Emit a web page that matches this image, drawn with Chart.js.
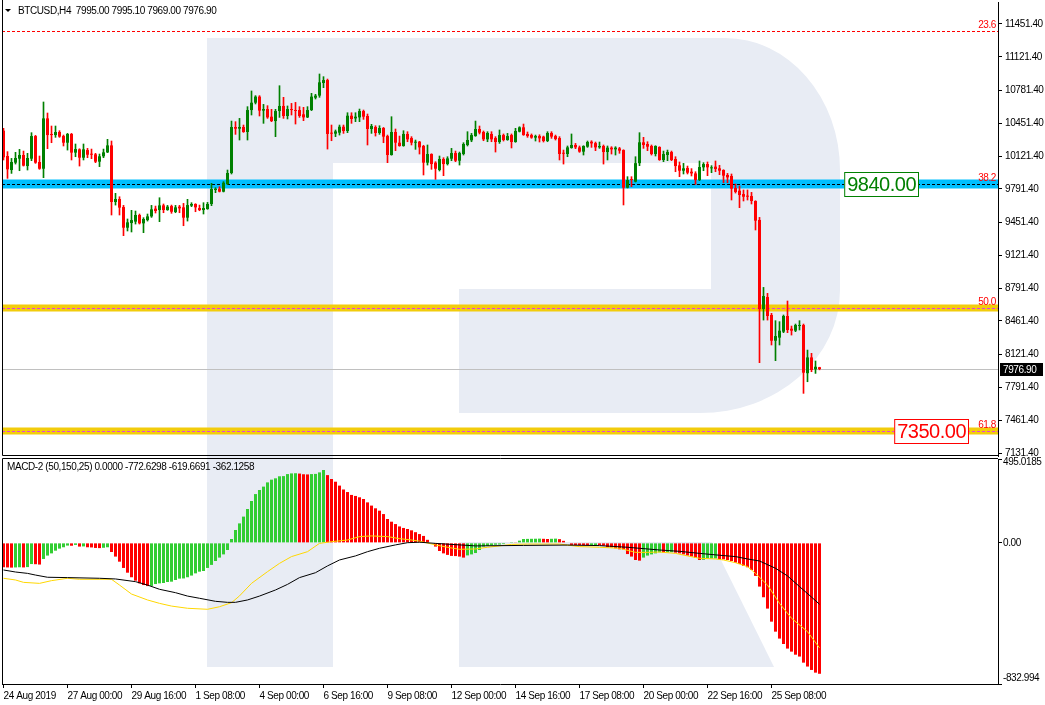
<!DOCTYPE html>
<html>
<head>
<meta charset="utf-8">
<script src="https://cdn.jsdelivr.net/npm/chart.js@4.4.0/dist/chart.umd.min.js"></script>
<style>
  html, body { margin: 0; padding: 0; background: #fff; }
  #wrap { position: relative; width: 1045px; height: 705px; overflow: hidden; }
  #logo { position: absolute; left: 0; top: 0; }
  #priceChart { position: absolute; left: 0; top: 0; }
  #macdChart { position: absolute; left: 0; top: 457px; }
</style>
</head>
<body>
<div id="wrap">
  <!-- background watermark -->
  <svg id="logo" width="1045" height="705">
    <g fill="#e8ecf4">
      <rect x="207" y="38" width="126" height="629"/>
      <path d="M333,38 H725 A115,132 0 0 1 840,170 V290 A140,123 0 0 1 700,413 H459 V289 H711 V163 H333 Z"/>
      <path d="M459,542 H712 L774,667 H459 Z"/>
    </g>
  </svg>
  <canvas id="priceChart" width="1045" height="457"></canvas>
  <canvas id="macdChart" width="1045" height="248"></canvas>
</div>
<script>
// BTCUSD H4, one bar every 4 hours from 24 Aug 2019 08:00
const opens = [10377,10122,9981,10055,10095,10132,10021,10095,10323,10062,9994,10501,10344,10333,10364,10323,10256,10344,10156,10189,
  10105,10182,10142,10139,10065,10119,10159,10229,9659,9689,9608,9400,9447,9461,9528,9444,9477,9514,9592,9578,
  9625,9578,9618,9558,9612,9605,9501,9622,9639,9598,9578,9588,9639,9780,9793,9763,9840,9951,10414,10397,
  10414,10364,10585,10659,10720,10579,10595,10518,10474,10575,10626,10525,10595,10585,10585,10542,10511,10585,10709,10730,
  10857,10887,10354,10347,10357,10417,10374,10528,10501,10511,10575,10525,10394,10414,10354,10404,10323,10132,10364,10256,
  10223,10344,10303,10256,10266,10223,10055,10142,10055,9981,10092,10041,10095,10152,10075,10142,10233,10280,10323,10394,
  10364,10290,10344,10303,10263,10333,10283,10333,10263,10367,10411,10344,10333,10307,10323,10317,10273,10354,10323,10303,
  10152,10142,10203,10233,10209,10166,10216,10266,10252,10209,10223,10162,10206,10189,10199,10182,9803,9890,9864,10050,
  10260,10243,10223,10142,10213,10082,10132,10162,10092,10028,9974,10001,9964,9947,9880,10008,10041,9998,10015,9998,
  9981,9931,9921,9800,9773,9739,9723,9719,9669,9478,8581,8702,8521,8262,8293,8353,8511,8383,8363,8410,
  8420,7935,8094,7974,7995.00]
const highs = [10401,10166,10098,10159,10189,10172,10149,10357,10330,10122,10666,10555,10424,10424,10377,10333,10350,10350,10243,10195,
  10243,10199,10192,10149,10142,10192,10290,10273,9746,9712,9625,9488,9575,9568,9538,9501,9538,9625,9618,9702,
  9639,9625,9628,9625,9625,9645,9686,9652,9642,9628,9652,9655,9847,9803,9813,9864,9981,10474,10468,10501,
  10434,10619,10777,10730,10730,10642,10629,10592,10592,10830,10713,10626,10652,10662,10619,10612,10619,10753,10743,10948,
  10921,10897,10434,10384,10434,10434,10558,10558,10558,10595,10585,10545,10441,10427,10427,10410,10333,10518,10394,10323,
  10377,10367,10317,10283,10270,10230,10233,10145,10065,10122,10105,10115,10199,10172,10162,10256,10367,10350,10474,10424,
  10374,10367,10367,10317,10384,10344,10350,10344,10401,10417,10444,10364,10344,10333,10336,10323,10367,10367,10333,10317,
  10182,10223,10344,10249,10223,10226,10273,10276,10263,10263,10233,10223,10216,10216,10209,10185,9914,9914,10115,10357,
  10310,10266,10233,10226,10216,10172,10182,10172,10115,10062,10048,10021,9995,9964,10072,10055,10062,10025,10072,10028,
  9984,9947,9941,9840,9820,9780,9780,9756,9672,9504,8799,8739,8538,8464,8454,8521,8662,8410,8430,8464,
  8430,8168,8135,8058,7995.10]
const lows = [10082,9897,9947,10041,9974,10021,9981,10075,10048,9988,9904,10196,10256,10310,10310,10223,10182,10082,10115,10021,
  10082,10105,10095,10055,10015,10105,10156,9528,9628,9528,9320,9367,9357,9437,9437,9350,9467,9504,9548,9461,
  9551,9575,9545,9551,9551,9420,9467,9612,9561,9571,9538,9585,9622,9753,9760,9760,9833,9941,10340,10283,
  10360,10283,10535,10646,10525,10451,10501,10468,10317,10511,10501,10495,10535,10444,10511,10478,10508,10579,10696,10713,
  10810,10192,10276,10317,10333,10350,10357,10451,10468,10468,10491,10233,10350,10323,10340,10256,10055,10130,10176,10220,
  10220,10266,10233,10189,10142,9931,10031,9988,9887,9971,9924,10031,10075,10065,10031,10132,10223,10266,10320,10344,
  10276,10266,10266,10162,10249,10273,10280,10203,10260,10364,10330,10310,10300,10273,10263,10263,10266,10300,10283,10082,
  10041,10115,10200,10196,10159,10132,10209,10209,10176,10199,10041,10082,10142,10132,10149,9629,9800,9813,9860,10025,
  10199,10176,10132,10122,10078,10065,10075,10075,9964,9914,9941,9941,9921,9837,9874,9974,9924,9954,9964,9934,
  9853,9853,9679,9749,9602,9669,9679,9639,9377,8041,8470,8470,8219,8061,8219,8343,8343,8319,8353,8370,
  7732,7849,7950,7933,7969.00]
const closes = [10109,9988,10062,10102,10132,10025,10102,10323,10055,9994,10501,10333,10333,10364,10317,10256,10344,10156,10192,10105,
  10189,10135,10135,10065,10119,10159,10229,9659,9689,9602,9400,9454,9477,9528,9444,9488,9514,9585,9568,9625,
  9578,9612,9561,9605,9595,9501,9628,9639,9605,9578,9598,9639,9790,9793,9763,9853,9951,10414,10397,10414,
  10364,10585,10659,10720,10579,10595,10511,10474,10575,10626,10525,10595,10585,10575,10525,10511,10585,10720,10730,10864,
  10887,10344,10347,10370,10417,10374,10528,10495,10518,10575,10518,10394,10424,10354,10404,10317,10132,10364,10256,10223,
  10344,10290,10256,10266,10209,10055,10142,10041,9994,10092,10041,10098,10152,10075,10152,10243,10283,10333,10394,10357,
  10290,10354,10290,10263,10333,10283,10323,10263,10374,10411,10333,10323,10307,10323,10300,10273,10354,10317,10293,10142,
  10145,10209,10233,10209,10166,10223,10263,10249,10209,10223,10162,10206,10189,10206,10176,9803,9880,9880,10050,10260,
  10233,10216,10142,10223,10082,10142,10162,10082,10021,9974,9998,9954,9947,9880,10011,10041,10008,10008,9991,9974,
  9924,9907,9793,9760,9729,9712,9712,9669,9471,8581,8712,8511,8262,8309,8363,8511,8370,8363,8420,8420,
  7940,8094,7967,8000,7976.90]

// MACD-2 (50,150,25) histogram, one value per bar
const histVals = [-144,-145,-146,-145,-144,-145,-143,-125,-126,-128,-95,-75,-62,-46,-34,-26,-16,-17,-12,-22,
  -21,-26,-27,-30,-31,-29,-26,-54,-81,-111,-148,-176,-203,-223,-239,-249,-255,-254,-243,-239,
  -237,-231,-229,-219,-211,-210,-203,-193,-180,-170,-166,-148,-130,-107,-87,-68,-42,23,76,115,
  155,200,247,288,312,332,357,373,381,393,394,406,410,411,409,405,404,406,407,416,
  430,400,377,361,338,315,300,283,277,269,259,239,220,204,190,170,141,125,111,97,
  88,82,74,63,52,41,18,3,-22,-48,-62,-71,-77,-78,-81,-87,-74,-68,-60,-42,
  -22,-18,-15,-11,-10,-7,-3,5,4,13,23,23.5,24,24.5,25,24,23,24,25,22,
  12,-3,-12,-12.5,-13,-13.5,-14,-13,-12.5,-13,-16,-26,-27,-32,-38,-39,-66,-81,-101,-105,
  -87,-75,-68,-62,-56,-57,-56,-55,-58,-62,-68,-75,-81,-89,-101,-100,-93,-92.5,-92,-97,
  -97.5,-101,-107,-117,-125,-136,-144,-160,-195,-258,-321,-388,-465,-524,-565,-597,-624,-642,-660,-671,
  -707,-730,-750,-766,-772.6298]

// MACD main line (gold) and signal line (black), read at these bars
const macdIdx = [0,3,5,9,12,16,19,27,29,32,36,39,42,46,51,54,57,59,62,66,69,72,76,79,82,86,89,92,96,99,
  102,104,108,111,114,118,121,124,127,131,139,144,149,154,158,161,164,168,171,174,178,180,183,186,188,191,194,197,201,204]
const macdVals = [-209,-219,-233,-239,-223,-209,-215,-215,-249,-302,-337,-357,-373,-386,-392,-377,-353,-313,-239,-170,-121,-81,-52,-3,7,17,37,41,37,25,
  17,10,-12,-26,-38,-36,-26,-18,-9,-7,-7,-22,-26,-32,-56,-56,-54,-62,-77,-91,-95,-101,-117,-140,-180,-249,-357,-445,-524,-619.6691]
const signalIdx = [0,3,6,8,11,16,24,28,33,36,39,43,46,49,53,56,58,61,64,68,71,74,78,81,84,88,91,94,98,101,
  104,108,114,118,130,141,149,156,159,164,169,174,179,183,186,189,193,196,199,202,204]
const signalVals = [-160,-172,-180,-190,-203,-205,-209,-213,-229,-249,-274,-294,-314,-327,-345,-351,-351,-337,-314,-278,-245,-205,-176,-136,-101,-77,-52,-32,-12,1,
  4,-3,-12,-18,-15,-13,-16,-26,-32,-42,-50,-62,-73,-81,-95,-107,-150,-195,-258,-320,-362.1258]
const macdHeaderVals = [0, -772.6298, -619.6691, -362.1258]

// axis ticks
const priceTicks = [11451.4, 11121.4, 10781.4, 10451.4, 10121.4, 9791.4, 9451.4, 9121.4, 8791.4, 8461.4, 8121.4, 7791.4, 7461.4, 7131.4]
const macdTicks = [495.0185, 0, -832.994]
const macdTickLabels = ['495.0185', '0.00', '-832.994']
const timeTickIdx = [0, 16, 32, 48, 64, 80, 96, 112, 128, 144, 160, 176, 192]
const timeTickLabels = ['24 Aug 2019', '27 Aug 00:00', '29 Aug 16:00', '1 Sep 08:00', '4 Sep 00:00', '6 Sep 16:00',
  '9 Sep 08:00', '12 Sep 00:00', '14 Sep 16:00', '17 Sep 08:00', '20 Sep 00:00', '22 Sep 16:00', '25 Sep 08:00']

// fibo levels and the two price notes
const fibNames = ['23.6', '38.2', '50.0', '61.8']
const fibPrices = [11380, 9840, 8595, 7350]
const notePrices = [9840, 7350]
const noteTexts = ['9840.00', '7350.00']

// styles
const fibBandColor = [null, '#00bfff', '#f2cc0c', '#f2cc0c']
const fibBandWidth = [0, 9, 7, 7]
const fibLineColor = ['#ff0000', '#000000', '#e040e0', '#e040e0']
const noteColor = ['#008000', '#ff0000']
const noteRightBar = [228.75, 241.25]
const UP = '#008000', DOWN = '#ff0000'
const HIST_UP = '#32cd32', HIST_DOWN = '#ff0000'
const FONT = '"Liberation Sans", Arial, sans-serif'
const xMin = -0.375, xMax = 248.625

const bodies = opens.map((o, i) => ({ x: i, y: [o, closes[i]] }))
const wicks = lows.map((l, i) => ({ x: i, y: [l, highs[i]] }))
const candleColors = opens.map((o, i) => closes[i] < o ? DOWN : UP)
const hist = histVals.map((v, i) => ({ x: i, y: v }))
const histColors = histVals.map((v, i) => (i > 0 && v > histVals[i - 1]) ? HIST_UP : HIST_DOWN)
const macdPts = macdIdx.map((x, k) => ({ x: x, y: macdVals[k] }))
const signalPts = signalIdx.map((x, k) => ({ x: x, y: signalVals[k] }))
const last = opens.length - 1

// no label overhang padding, the plot has to fill its panel
const noPad = s => { s.paddingTop = 0; s.paddingBottom = 0; s.paddingLeft = 0; s.paddingRight = 0 }

// tighter text, closer to the terminal font
const tightText = {
  id: 'tightText',
  beforeDraw(chart) { chart.ctx.letterSpacing = '-0.4px' }
}

const priceDecor = {
  id: 'priceDecor',
  beforeDatasetsDraw(chart) {
    const { ctx, chartArea: a, scales: { y } } = chart
    ctx.save()
    ctx.beginPath()
    ctx.rect(a.left, a.top, a.right - a.left, a.bottom - a.top)
    ctx.clip()
    // current price line
    const cy = Math.round(y.getPixelForValue(closes[last])) + 0.5
    ctx.strokeStyle = '#c0c0c0'
    ctx.lineWidth = 1
    ctx.beginPath(); ctx.moveTo(a.left, cy); ctx.lineTo(a.right, cy); ctx.stroke()
    fibPrices.forEach((p, k) => {
      const py = Math.round(y.getPixelForValue(p))
      if (fibBandColor[k]) {
        ctx.fillStyle = fibBandColor[k]
        ctx.fillRect(a.left, py - fibBandWidth[k] / 2, a.right - a.left, fibBandWidth[k])
      }
      ctx.strokeStyle = fibLineColor[k]
      ctx.setLineDash([3, 2])
      ctx.beginPath(); ctx.moveTo(a.left, py + 0.5); ctx.lineTo(a.right, py + 0.5); ctx.stroke()
      ctx.setLineDash([])
      ctx.fillStyle = '#ff0000'
      ctx.font = '10px ' + FONT
      ctx.textAlign = 'right'
      ctx.textBaseline = 'alphabetic'
      ctx.fillText(fibNames[k], a.right - 2, py - 3)
    })
    ctx.restore()
  },
  afterDraw(chart) {
    const { ctx, chartArea: a, scales: { x, y } } = chart
    ctx.save()
    // frame
    ctx.strokeStyle = '#000'
    ctx.lineWidth = 1
    ctx.beginPath()
    ctx.moveTo(a.left + 0.5, 0); ctx.lineTo(a.left + 0.5, a.bottom - 0.5); ctx.lineTo(a.right, a.bottom - 0.5)
    ctx.stroke()
    // price notes
    ctx.font = '20px ' + FONT
    ctx.letterSpacing = '-0.5px'
    ctx.textBaseline = 'middle'
    ctx.textAlign = 'center'
    notePrices.forEach((p, k) => {
      const py = Math.round(y.getPixelForValue(p))
      const w = ctx.measureText(noteTexts[k]).width + 6
      const r = Math.round(x.getPixelForValue(noteRightBar[k]))
      ctx.fillStyle = '#fff'
      ctx.fillRect(r - w, py - 12, w, 25)
      ctx.strokeStyle = noteColor[k]
      ctx.strokeRect(r - w + 0.5, py - 11.5, w - 1, 24)
      ctx.fillStyle = noteColor[k]
      ctx.fillText(noteTexts[k], r - w / 2, py + 1)
    })
    ctx.letterSpacing = '-0.4px'
    // current price tag on the axis
    const cy = Math.round(y.getPixelForValue(closes[last]))
    ctx.fillStyle = '#000'
    ctx.fillRect(a.right + 2, cy - 6, 43, 13)
    ctx.fillStyle = '#fff'
    ctx.font = '10px ' + FONT
    ctx.textAlign = 'left'
    ctx.fillText(closes[last].toFixed(2), a.right + 5, cy + 1)
    // header
    ctx.fillStyle = '#000'
    ctx.beginPath(); ctx.moveTo(5, 9); ctx.lineTo(11, 9); ctx.lineTo(8, 12); ctx.closePath(); ctx.fill()
    ctx.fillText('BTCUSD,H4  ' + [opens[last], highs[last], lows[last], closes[last]].map(v => v.toFixed(2)).join(' '), 18, 11)
    ctx.restore()
  }
}

new Chart(document.getElementById('priceChart'), {
  type: 'bar',
  data: {
    datasets: [
      { label: 'body', data: bodies, backgroundColor: candleColors, grouped: false, barPercentage: 1, categoryPercentage: 0.75, maxBarThickness: 3, minBarLength: 1, order: 1 },
      { label: 'wick', data: wicks, backgroundColor: candleColors, grouped: false, barPercentage: 1, categoryPercentage: 1, maxBarThickness: 1, order: 2 }
    ]
  },
  options: {
    responsive: false,
    animation: false,
    devicePixelRatio: 1,
    layout: { padding: { left: 2, top: 2, right: 0, bottom: 1 } },
    plugins: { legend: { display: false }, tooltip: { enabled: false } },
    scales: {
      x: { type: 'linear', display: false, min: xMin, max: xMax, bounds: 'data', offset: false, grid: { offset: false } },
      y: {
        position: 'right', min: 7101.2, max: 11672.9, beginAtZero: false, bounds: 'data',
        afterBuildTicks: s => { s.ticks = priceTicks.map(v => ({ value: v })) },
        afterFit: s => { s.width = 47; noPad(s) },
        ticks: { callback: v => v.toFixed(2), color: '#000', font: { family: FONT, size: 10 }, padding: 3 },
        grid: { drawOnChartArea: false, drawTicks: true, tickLength: 4, color: '#000' },
        border: { color: '#000' }
      }
    }
  },
  plugins: [tightText, priceDecor]
})

const macdDecor = {
  id: 'macdDecor',
  afterDraw(chart) {
    const { ctx, chartArea: a, scales: { y } } = chart
    ctx.save()
    ctx.strokeStyle = '#000'
    ctx.lineWidth = 1
    ctx.beginPath()
    ctx.moveTo(a.right, a.top - 0.5); ctx.lineTo(a.left + 0.5, a.top - 0.5); ctx.lineTo(a.left + 0.5, a.bottom)
    ctx.stroke()
    ctx.fillStyle = '#000'
    ctx.font = '10px ' + FONT
    ctx.textBaseline = 'middle'
    ctx.textAlign = 'left'
    ctx.fillText('MACD-2 (50,150,25) ' + macdHeaderVals.map(v => v.toFixed(4)).join(' '), 7, a.top + 8)
    // axis labels, the end ones kept inside the panel like the terminal does
    macdTicks.forEach((v, k) => {
      const py = Math.min(Math.max(y.getPixelForValue(v), a.top + 3), a.bottom - 6)
      ctx.fillText(macdTickLabels[k], a.right + 5, py)
    })
    ctx.restore()
  }
}

new Chart(document.getElementById('macdChart'), {
  type: 'bar',
  data: {
    datasets: [
      { type: 'line', label: 'signal', data: signalPts, borderColor: '#000000', borderWidth: 1, pointRadius: 0, tension: 0, order: 0 },
      { type: 'line', label: 'macd', data: macdPts, borderColor: '#ffd700', borderWidth: 1, pointRadius: 0, tension: 0, order: 1 },
      { type: 'bar', label: 'hist', data: hist, backgroundColor: histColors, grouped: false, barPercentage: 1, categoryPercentage: 0.75, maxBarThickness: 3, order: 2 }
    ]
  },
  options: {
    responsive: false,
    animation: false,
    devicePixelRatio: 1,
    layout: { padding: { left: 2, top: 2, right: 0, bottom: 0 } },
    plugins: { legend: { display: false }, tooltip: { enabled: false } },
    scales: {
      x: {
        type: 'linear', min: xMin, max: xMax, bounds: 'data', position: 'bottom', offset: false,
        afterBuildTicks: s => { s.ticks = timeTickIdx.map(v => ({ value: v })) },
        afterFit: s => { s.height = 21; noPad(s) },
        ticks: { callback: (v, i) => timeTickLabels[i], align: 'start', maxRotation: 0, autoSkip: false, color: '#000', font: { family: FONT, size: 10 }, padding: 2 },
        grid: { offset: false, drawOnChartArea: false, drawTicks: true, tickLength: 4, color: '#000' },
        border: { color: '#000' }
      },
      y: {
        position: 'right', min: -832.994, max: 495.0185, beginAtZero: false, bounds: 'data',
        afterBuildTicks: s => { s.ticks = macdTicks.map(v => ({ value: v })) },
        afterFit: s => { s.width = 47; noPad(s) },
        ticks: { callback: () => '', padding: 3 },
        grid: { drawOnChartArea: false, drawTicks: true, tickLength: 4, color: '#000' },
        border: { color: '#000' }
      }
    }
  },
  plugins: [tightText, macdDecor]
})
</script>
</body>
</html>
